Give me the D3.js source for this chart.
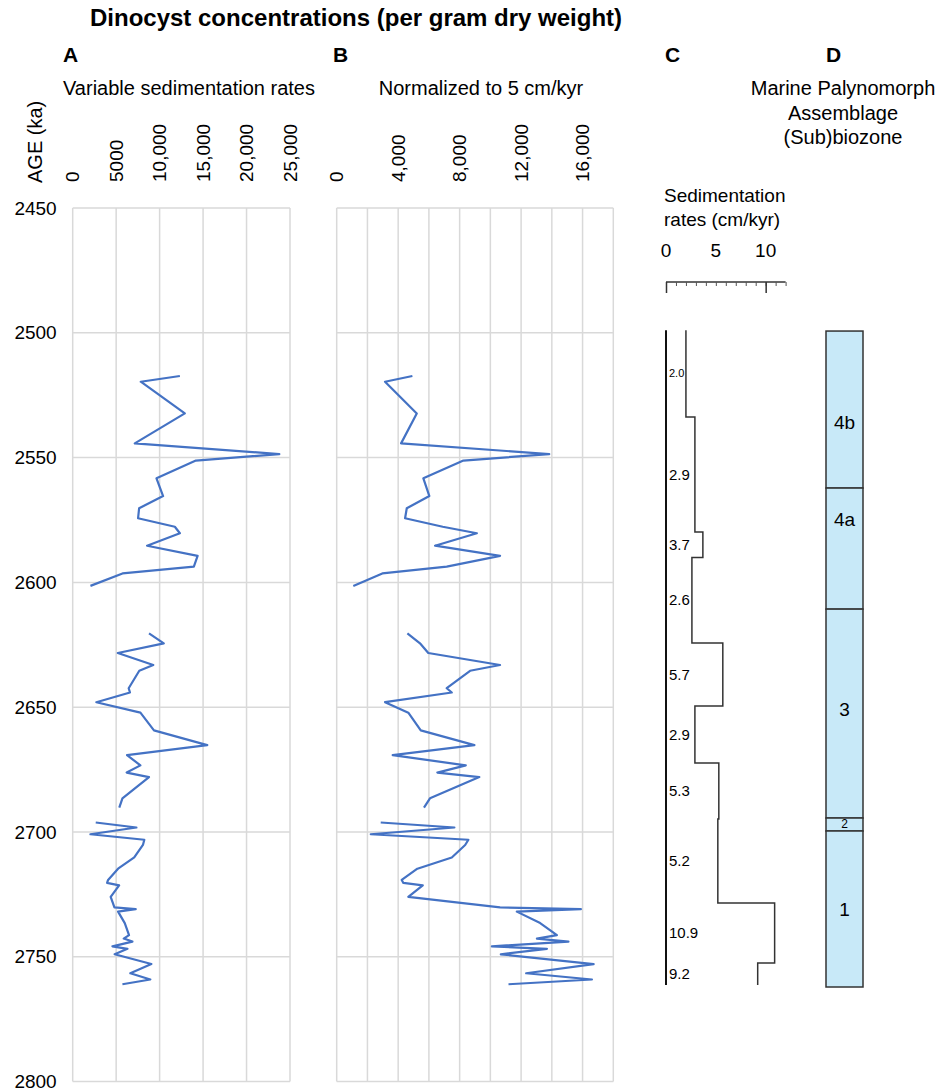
<!DOCTYPE html>
<html>
<head>
<meta charset="utf-8">
<script src="https://cdn.jsdelivr.net/npm/d3@7"></script>
<style>
  body { margin: 0; background: #fff; }
  svg { display: block; font-family: "Liberation Sans", Arial, sans-serif; }
  .grid line { stroke: #d9d9d9; stroke-width: 1.5; }
  .series { fill: none; stroke: #4472c4; stroke-width: 2.2; stroke-linejoin: round; }
</style>
</head>
<body>
<svg id="chart" width="942" height="1091"></svg>
<script>
// sample ages (ka); null marks a gap between the three sampled intervals
var sampleAge = [
    2517.3, 2519.6, 2532.3, 2544.3, 2548.6, 2551.2, 2558.3, 2565.4, 2570.3, 2574.3, 2577.7, 2580.3, 2585.3, 2589.4, 2593.7, 2596.4, 2601.4,
    null,
    2620.4, 2624.4, 2628.3, 2633.1, 2635.4, 2642.4, 2644.1, 2648.0, 2652.2, 2659.3, 2665.2, 2669.2, 2673.3, 2676.2, 2678.0, 2686.5, 2690.2,
    null,
    2696.2, 2698.2, 2700.9, 2703.1, 2705.2, 2710.2, 2714.7, 2719.2, 2720.4, 2721.4, 2726.0, 2730.2, 2730.9, 2731.9, 2736.5, 2741.3, 2742.7, 2743.9, 2745.8, 2746.8, 2749.0, 2752.9, 2756.6, 2759.1, 2761.0
];
// A: dinocysts per gram, variable sedimentation rates
var concVariable = [
    12330, 7830, 12900, 7140, 23770, 14170, 9640, 10400, 7640, 7520, 11750, 12330, 8560, 14370, 13940, 5730, 2040,
    null,
    8780, 10480, 5190, 9270, 7660, 6440, 6590, 2720, 7790, 9350, 15480, 6250, 7790, 6210, 8780, 5720, 5360,
    null,
    2650, 7330, 2040, 8240, 8080, 7080, 5220, 4070, 3960, 5340, 4370, 4800, 7250, 5220, 5990, 6480, 5870, 6870, 4570, 6300, 4830, 9050, 6630, 8930, 5720
];
// B: normalized to 5 cm/kyr
var concNormalized = [
    4925, 3145, 5210, 4190, 13830, 8245, 5640, 6030, 4560, 4450, 6900, 9120, 6400, 10630, 7160, 2970, 1080,
    null,
    4600, 5420, 5960, 10630, 8680, 7160, 7490, 3145, 4660, 5470, 8960, 3645, 8400, 6550, 9280, 6070, 5680,
    null,
    2865, 7660, 2215, 8570, 8360, 7490, 5250, 4230, 4340, 5600, 4660, 10630, 15890, 11720, 13240, 14330, 13030, 15080, 10100, 13680, 10680, 16720, 12330, 16610, 11180
];

// C: sedimentation rates, boundaries between intervals
var rateBoundaries = [2499, 2533.7, 2579.8, 2590.0, 2624.3, 2649.5, 2672.4, 2694.8, 2728.4, 2752.5, 2761.3];
var rates = [2.0, 2.9, 3.7, 2.6, 5.7, 2.9, 5.3, 5.2, 10.9, 9.2];

// D: biozones
var zoneNames = ['4b', '4a', '3', '2', '1'];
var zoneTop = [2499.3, 2562.2, 2610.7, 2694.4, 2699.6];
var zoneBase = [2562.2, 2610.7, 2694.4, 2699.6, 2762.1];
var zoneLabelAge = [2535.7, 2574.6, 2650.7, 2696.8, 2730.8];

var ageTicks = d3.range(2450, 2801, 50);
var ticksA = [0, 5000, 10000, 15000, 20000, 25000];
var tickLabelsA = ['0', '5000', '10,000', '15,000', '20,000', '25,000'];
var gridB = d3.range(0, 18001, 2000);
var ticksB = [0, 4000, 8000, 12000, 16000];
var tickLabelsB = ['0', '4,000', '8,000', '12,000', '16,000'];
var rateTicks = [0, 5, 10];

var svg = d3.select('#chart');

var y = d3.scaleLinear().domain([2450, 2800]).range([208, 1081.6]);
var xA = d3.scaleLinear().domain([0, 25000]).range([72.7, 290]);
var xB = d3.scaleLinear().domain([0, 18000]).range([336.7, 613.3]);
var xC = d3.scaleLinear().domain([0, 12]).range([666, 785.6]);

// headings
svg.append('text').attr('x', 90).attr('y', 26)
    .style('font-size', '24px').style('font-weight', 'bold')
    .text('Dinocyst concentrations (per gram dry weight)');

var letters = [['A', 63], ['B', 333], ['C', 665], ['D', 826]];
letters.forEach(function(d) {
    svg.append('text').attr('x', d[1]).attr('y', 62)
        .style('font-size', '21px').style('font-weight', 'bold').text(d[0]);
});

svg.append('text').attr('x', 63).attr('y', 95).style('font-size', '20px')
    .text('Variable sedimentation rates');
svg.append('text').attr('x', 481).attr('y', 95).style('font-size', '20px')
    .attr('text-anchor', 'middle').text('Normalized to 5 cm/kyr');
['Marine Palynomorph', 'Assemblage', '(Sub)biozone'].forEach(function(t, i) {
    svg.append('text').attr('x', 843).attr('y', 95 + i * 24.5).style('font-size', '20px')
        .attr('text-anchor', 'middle').text(t);
});

svg.append('text').attr('transform', 'translate(35,183) rotate(-90)')
    .attr('dy', '0.35em').style('font-size', '20px').text('AGE (ka)');

// age axis
var yAxis = svg.append('g').attr('transform', 'translate(72.7,0)')
    .call(d3.axisLeft(y).tickValues(ageTicks).tickSize(0).tickPadding(16).tickFormat(d3.format('d')));
yAxis.select('.domain').remove();
yAxis.selectAll('text').style('font-size', '19px').style('font-family', null).attr('fill', '#000');

function drawPanel(x, gridVals, tickVals, tickLabels, values) {
    var g = svg.append('g');
    var grid = g.append('g').attr('class', 'grid');
    grid.selectAll('line.v').data(gridVals).join('line')
        .attr('class', 'v')
        .attr('x1', function(d) { return x(d); }).attr('x2', function(d) { return x(d); })
        .attr('y1', y(2450)).attr('y2', y(2800));
    grid.selectAll('line.h').data(ageTicks).join('line')
        .attr('class', 'h')
        .attr('x1', x.range()[0]).attr('x2', x.range()[1])
        .attr('y1', function(d) { return y(d); }).attr('y2', function(d) { return y(d); });

    g.selectAll('text.tick').data(tickVals).join('text')
        .attr('class', 'tick')
        .attr('transform', function(d) { return 'translate(' + x(d) + ',182) rotate(-90)'; })
        .attr('dy', '0.35em').style('font-size', '19px')
        .text(function(d, i) { return tickLabels[i]; });

    var pts = sampleAge.map(function(a, i) { return { age: a, v: values[i] }; });
    var line = d3.line()
        .defined(function(d) { return d.v != null; })
        .x(function(d) { return x(d.v); })
        .y(function(d) { return y(d.age); });
    g.append('path').datum(pts).attr('class', 'series').attr('d', line);
}

drawPanel(xA, ticksA, ticksA, tickLabelsA, concVariable);
drawPanel(xB, gridB, ticksB, tickLabelsB, concNormalized);

// C: sedimentation rate scale
svg.append('text').attr('x', 664).attr('y', 202).style('font-size', '19px').text('Sedimentation');
svg.append('text').attr('x', 664).attr('y', 226).style('font-size', '19px').text('rates (cm/kyr)');
svg.selectAll('text.rtick').data(rateTicks).join('text')
    .attr('class', 'rtick')
    .attr('x', function(d) { return xC(d); }).attr('y', 257)
    .attr('text-anchor', 'middle').style('font-size', '19px')
    .text(function(d) { return d; });

var minorAxis = svg.append('g').attr('transform', 'translate(0,282)')
    .call(d3.axisBottom(xC).tickValues(d3.range(0, 13, 1)).tickSize(4).tickFormat(''));
minorAxis.select('.domain').attr('d', 'M' + xC(0) + ',0H' + xC(12)).attr('stroke', '#333').attr('stroke-width', 1.5);
minorAxis.selectAll('.tick line').attr('stroke', '#555');
svg.append('g').attr('transform', 'translate(0,282)')
    .call(d3.axisBottom(xC).tickValues([0, 10]).tickSize(11).tickFormat(''))
    .call(function(g) { g.select('.domain').remove(); })
    .selectAll('.tick line').attr('stroke', '#333').attr('stroke-width', 1.5);

svg.append('line')
    .attr('x1', xC(0)).attr('x2', xC(0))
    .attr('y1', y(rateBoundaries[0])).attr('y2', y(rateBoundaries[rateBoundaries.length - 1]))
    .attr('stroke', '#111').attr('stroke-width', 2);

var stepPath = d3.path();
rates.forEach(function(r, i) {
    if (i === 0) stepPath.moveTo(xC(r), y(rateBoundaries[0]));
    else stepPath.lineTo(xC(r), y(rateBoundaries[i]));
    stepPath.lineTo(xC(r), y(rateBoundaries[i + 1]));
});
svg.append('path').attr('d', stepPath.toString())
    .attr('fill', 'none').attr('stroke', '#333').attr('stroke-width', 1.5);

svg.selectAll('text.rate').data(rates).join('text')
    .attr('class', 'rate')
    .attr('x', 669)
    .attr('y', function(d, i) { return y((rateBoundaries[i] + rateBoundaries[i + 1]) / 2); })
    .attr('dy', '0.35em')
    .style('font-size', function(d, i) { return i === 0 ? '11px' : '15px'; })
    .text(function(d) { return d.toFixed(1); });

// D: biozone column
var zones = svg.append('g');
zones.selectAll('rect').data(zoneNames).join('rect')
    .attr('x', 826).attr('width', 37)
    .attr('y', function(d, i) { return y(zoneTop[i]); })
    .attr('height', function(d, i) { return y(zoneBase[i]) - y(zoneTop[i]); })
    .attr('fill', '#c8e9f8').attr('stroke', '#333').attr('stroke-width', 1.5);
zones.selectAll('text').data(zoneNames).join('text')
    .attr('x', 844.5)
    .attr('y', function(d, i) { return y(zoneLabelAge[i]); })
    .attr('dy', '0.35em').attr('text-anchor', 'middle')
    .style('font-size', function(d) { return d === '2' ? '12px' : '19px'; })
    .text(function(d) { return d; });
</script>
</body>
</html>
